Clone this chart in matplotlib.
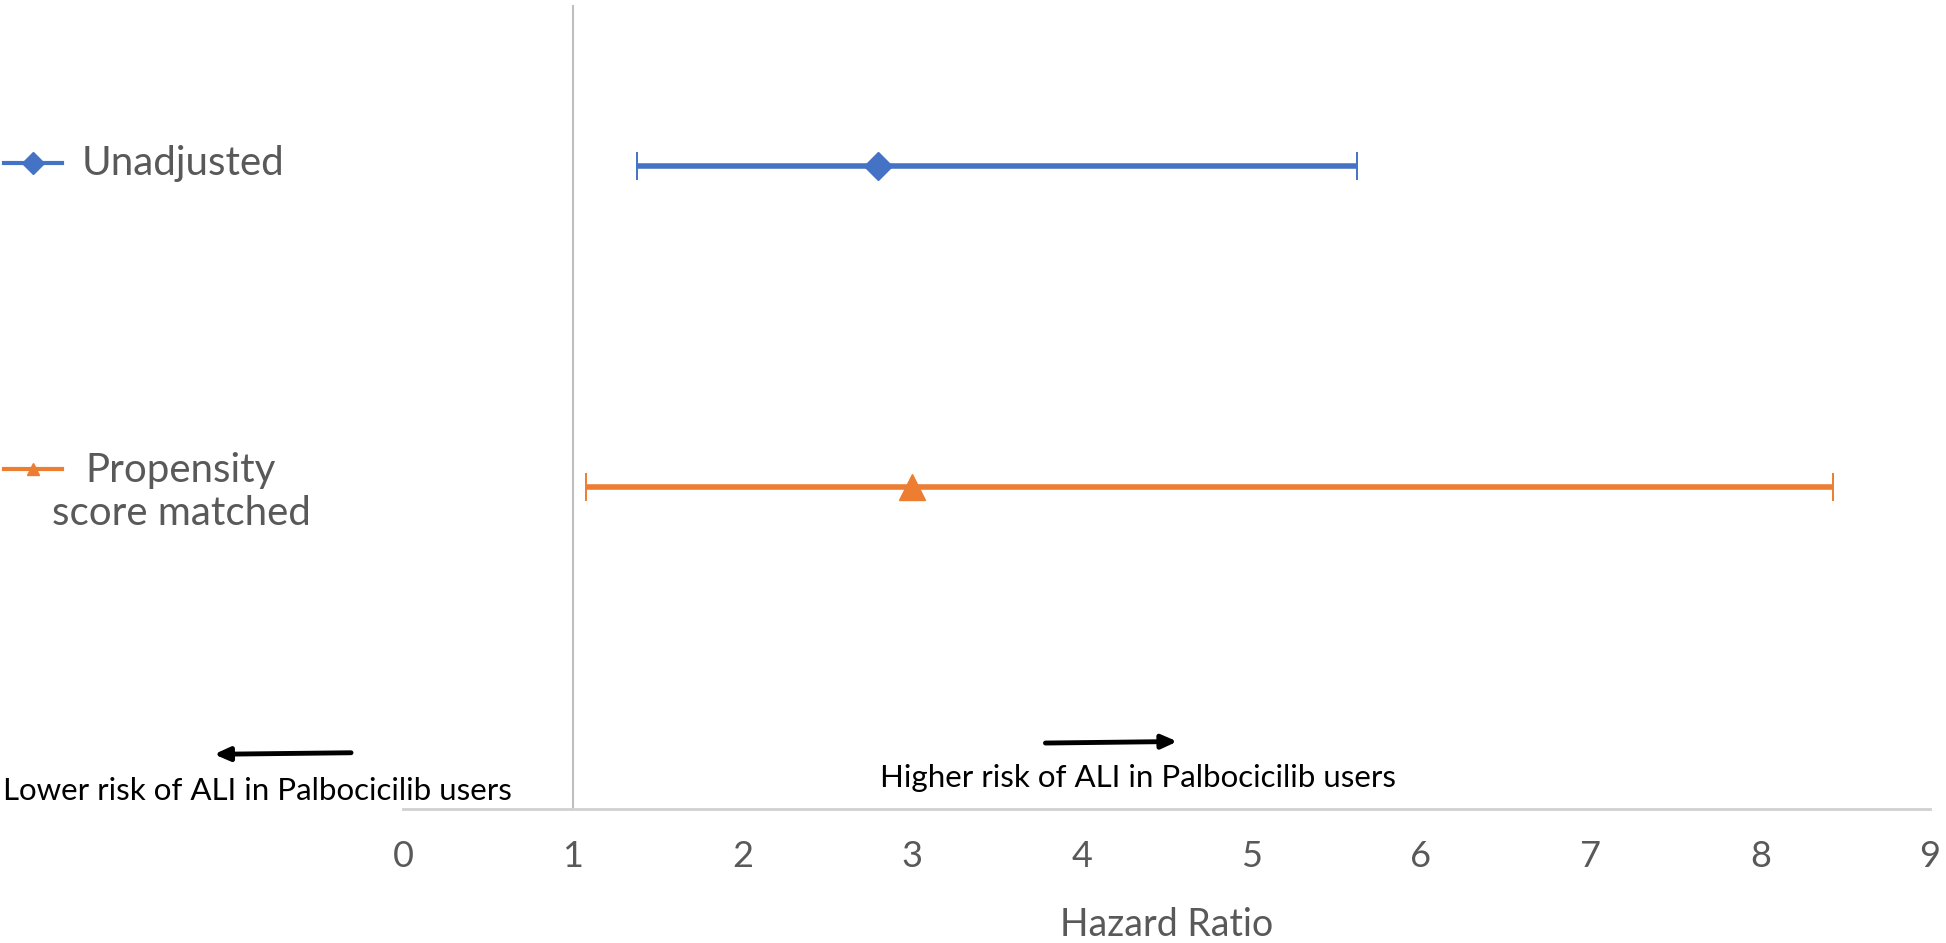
import matplotlib
matplotlib.use("Agg")
import matplotlib.pyplot as plt
from matplotlib.lines import Line2D

plt.rcParams["font.family"] = ["Lato", "DejaVu Sans"]

# --- data ---
groups = ["Unadjusted", "Propensity\nscore matched"]
hr = [2.80, 3.00]
ci_low = [1.38, 1.08]
ci_high = [5.62, 8.43]
ypos = [4, 2]
colors = ["#4472C4", "#ED7D31"]
markers = ["D", "^"]
marker_sizes = [14, 19]
legend_marker_sizes = [11, 9]
xticks = list(range(0, 10))

GRAY_TXT = "#595959"

fig = plt.figure(figsize=(19.46, 9.43), dpi=100)
ax = fig.add_axes([0.2071, 0.1421, 0.7847, 0.8526])

for i in range(len(groups)):
    ax.errorbar(hr[i], ypos[i],
                xerr=[[hr[i] - ci_low[i]], [ci_high[i] - hr[i]]],
                fmt=markers[i], color=colors[i], ms=marker_sizes[i],
                mec=colors[i], ecolor=colors[i], elinewidth=4,
                capsize=10, capthick=1.4, zorder=3)

# reference line at HR = 1 (vertical axis crossing)
ax.axvline(1, color="#BFBFBF", lw=1.5, zorder=1)

ax.set_xlim(0, 9)
ax.set_ylim(0, 5)
ax.set_yticks([])
ax.set_xticks(xticks)
ax.tick_params(axis="x", length=0, pad=22, labelsize=26, labelcolor=GRAY_TXT)
for s in ["top", "right", "left"]:
    ax.spines[s].set_visible(False)
ax.spines["bottom"].set_color("#D0D0D0")
ax.spines["bottom"].set_linewidth(2)
ax.set_xlabel("Hazard Ratio", fontsize=27, color=GRAY_TXT, labelpad=25)

# direction annotations
arrow_style = dict(arrowstyle="-|>,head_length=0.9,head_width=0.4",
                   color="black", lw=3.5)
ax.annotate("", xy=(-1.13, 0.34), xytext=(-0.29, 0.35), annotation_clip=False,
            arrowprops=arrow_style)
ax.text(-0.857, 0.115, "Lower risk of ALI in Palbocicilib users", ha="center",
        va="center", fontsize=22.5, color="black", clip_on=False)
ax.annotate("", xy=(4.58, 0.42), xytext=(3.77, 0.41), annotation_clip=False,
            arrowprops=arrow_style)
ax.text(4.33, 0.19, "Higher risk of ALI in Palbocicilib users", ha="center",
        va="center", fontsize=22.5, color="black")

# legend on the left, drawn by hand
leg_y = [1 - 163 / 943, 1 - 469 / 943]
for i, name in enumerate(groups):
    fig.add_artist(Line2D([0.002, 0.032], [leg_y[i], leg_y[i]], color=colors[i],
                          lw=3, transform=fig.transFigure))
    fig.add_artist(Line2D([0.017], [leg_y[i]], color=colors[i], marker=markers[i],
                          ms=legend_marker_sizes[i], ls="none",
                          transform=fig.transFigure))
fig.text(0.042, leg_y[0], groups[0], ha="left", va="center", fontsize=29,
         color=GRAY_TXT)
fig.text(0.093, leg_y[1] - 0.024, groups[1], ha="center", va="center",
         fontsize=29, color=GRAY_TXT, multialignment="center", linespacing=1.2)

fig.savefig("out.png", dpi=100)
